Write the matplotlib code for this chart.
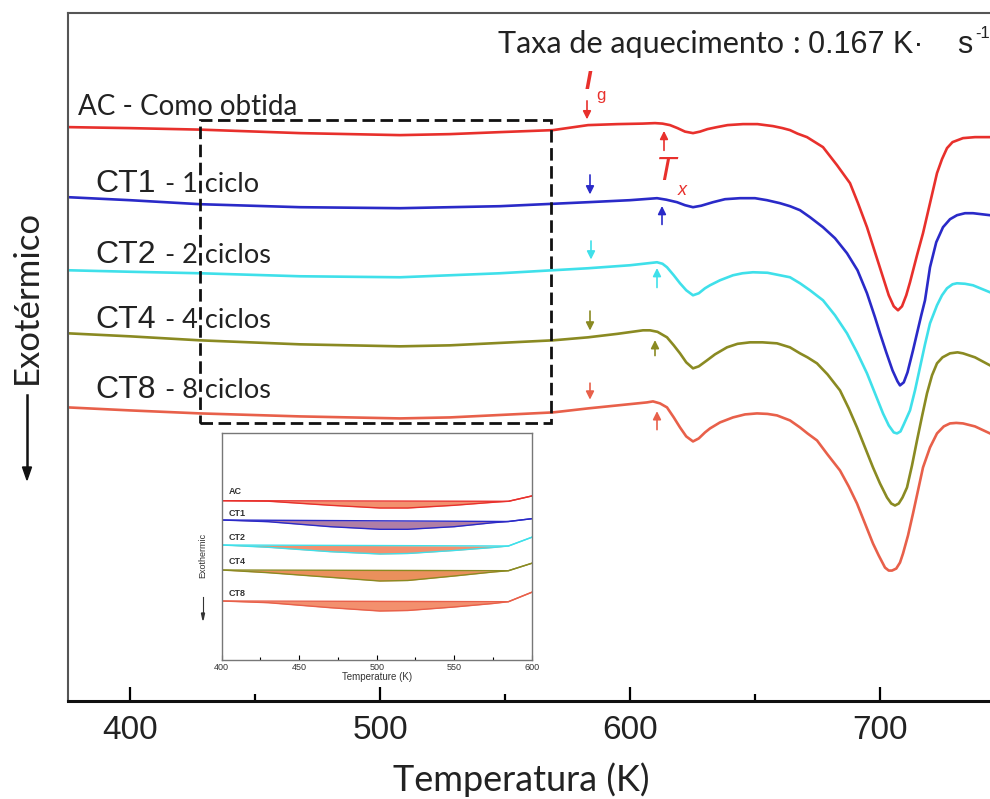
import numpy as np
import matplotlib.pyplot as plt
from matplotlib.patches import Rectangle

plt.rcParams['font.family'] = ['Liberation Sans', 'DejaVu Sans']

# ---- main DSC curves (T in K, heat flow in a.u.) ----
T_ac = [375.2, 400, 428, 468, 508, 528, 548, 569.2, 583.2, 595, 605, 610, 613, 616, 619, 622, 625.2, 628, 631,
        634.8, 639, 645.2, 651, 657.2, 661, 664, 667, 670.8, 677.2, 682.8, 688, 691.2, 694.8, 698, 701.2,
        703.5, 705.5, 707.2, 708.8, 710.5, 712, 714.8, 717.2, 720, 722.8, 724.8, 726.8, 729, 733.2, 738, 744]
s_ac = [573, 572, 570.5, 567, 565, 566, 568, 570, 575, 576, 576.5, 577, 576.5, 575, 572, 568.5, 567, 568.5, 571,
        573, 575, 576, 576, 574, 572, 570, 566.5, 563, 553, 535, 517, 497, 473, 448, 423,
        405, 394, 390, 394, 405, 418, 445, 467, 497, 527, 541, 552, 558, 562, 563, 563]

T_ct1 = [375.2, 400, 428, 468, 508, 528, 548, 583.2, 600, 610.8, 614.5, 618.8, 622, 625.2, 628.5, 633.2, 638,
         644, 650, 654.8, 660, 664, 668, 672, 677.2, 682, 686.8, 691, 694.8, 698, 700, 702.5, 705, 707, 708,
         709.5, 711, 713.2, 714.8, 716.5, 718, 720, 722.5, 725.2, 728, 730.8, 734, 737.2, 744]
s_ct1 = [503, 500, 496, 493, 492, 493, 494, 498, 500, 502, 500.5, 498, 495, 493, 494.5, 498, 501,
         502, 502, 500, 497, 494, 490, 483, 473, 462, 447, 430, 407, 383, 367, 348, 330, 319, 315,
         318, 328, 350, 367, 385, 400, 433, 458, 473, 481, 485, 487, 487, 485]

T_ct2 = [375.2, 400, 428, 468, 508, 528, 548, 583.2, 600, 610.8, 613, 614.8, 617.5, 620, 622.5, 625.2, 627.5,
         630, 632, 636, 641.2, 645, 649.2, 655, 660, 664, 668, 672, 677.2, 682, 686.8, 690.8, 694.8, 698,
         701.2, 703.5, 705.5, 706.8, 708.2, 709.5, 712, 714, 716, 718, 720, 722.8, 724.8, 726.8, 729, 730.8,
         734, 737.2, 744]
s_ct2 = [430, 428.5, 427, 424, 423, 425, 427, 432, 435, 438, 436.5, 433, 425, 417, 410, 405, 407,
         412, 415, 420, 425, 427, 428, 427.5, 425, 423, 417, 410, 400, 385, 367, 348, 327, 307,
         287, 275, 268, 267, 269, 276, 290, 310, 333, 356, 377, 395, 405, 412, 416, 417,
         416.5, 415, 408]

T_ct4 = [375.2, 400, 428, 468, 508, 528, 569.2, 583.2, 595, 605.2, 608, 611, 614.8, 617.5, 620, 622.5, 625.2,
         627.5, 630.8, 634, 638.8, 643, 648, 653, 658.8, 664, 668, 671, 674.8, 679, 684, 687.5, 690.8, 694,
         697.2, 700, 702.8, 704.5, 706, 707.5, 709, 710.8, 712.8, 714.8, 716.8, 718.8, 720.8, 722.8, 725,
         728, 731, 733.2, 738, 744]
s_ct4 = [367, 364, 360, 356, 354, 355, 360, 363, 366.5, 370, 370, 368.5, 363, 355, 347, 338, 332,
         334, 340, 346, 353, 356.5, 358, 358, 357, 353, 347, 343, 337, 326, 310, 292, 273, 253,
         233, 217, 203, 197, 195, 197, 203, 213, 235, 260, 284, 307, 325, 337, 343,
         347, 348, 347, 343, 335]

T_ct8 = [375.2, 400, 428, 468, 508, 528, 569.2, 583.2, 595, 606.8, 609.2, 612, 614.8, 617.5, 620, 622.5, 625.2,
         627.5, 630, 632, 636, 641.2, 646, 650.8, 655, 658.8, 664, 668, 671, 674.8, 679, 684, 687.5, 690.8,
         694, 697.2, 699.5, 702, 703.5, 704.8, 706.5, 708, 709.2, 711.2, 713.2, 715.2, 717.2, 720, 722.8,
         725.5, 728, 730.5, 733.2, 738, 744]
s_ct8 = [293, 290, 287, 284, 282, 283, 288, 292, 295, 298, 299, 297, 293, 283, 273, 264, 259,
         262, 268, 272, 278, 283, 286, 287, 286.5, 285, 280, 273, 267, 260, 246, 230, 214, 197,
         177, 157, 145, 133, 130, 130, 132, 138, 147, 165, 187, 210, 233, 253, 267,
         274, 277, 277.5, 277, 274, 267]

colors = ['#e8302c', '#2a2ac8', '#3fe0ea', '#8a8a22', '#e8604a']
curves = [(T_ac, s_ac), (T_ct1, s_ct1), (T_ct2, s_ct2), (T_ct4, s_ct4), (T_ct8, s_ct8)]

codes = ['CT1', 'CT2', 'CT4', 'CT8']
cycles = ['- 1 ciclo', '- 2 ciclos', '- 4 ciclos', '- 8 ciclos']
label_base = [508, 437, 372, 302]

# onset arrows: T_g (pointing down) and T_x (pointing up)
tg_T = [582.8, 584, 584.4, 584, 584]
tg_top = [602, 528, 462, 392, 320]
tg_bot = [578, 503, 438, 367, 298]
tx_T = [613.6, 612.8, 610.8, 610, 610.8]
tx_bot = [547, 473, 410, 342, 268]
tx_top = [572, 497, 435, 363, 292]

# ---- inset (zoom of 400-600 K) ----
in_T = [400, 430, 470, 502, 520, 550, 575, 585, 600]
in_ac = [159.3, 158.8, 154.7, 152, 152, 154.7, 157.7, 158.7, 164]
in_ct1 = [140, 138.3, 133.3, 130.7, 130.7, 133.3, 137.3, 138.5, 141.3]
in_ct2 = [115, 112.7, 108.3, 106, 106.5, 109.5, 112.5, 114, 122.7]
in_ct4 = [90, 87.3, 82.7, 79, 79.5, 84, 88, 89.3, 96.7]
in_ct8 = [59, 57.3, 52.3, 49, 49.5, 53, 56.5, 58.3, 67.7]
in_curves = [in_ac, in_ct1, in_ct2, in_ct4, in_ct8]
in_labels = ['AC', 'CT1', 'CT2', 'CT4', 'CT8']
in_label_y = [168, 146, 122, 98, 67]
fill_colors = ['#f2845e', '#a8709c', '#f2845e', '#e8844a', '#f2845e']

fig = plt.figure(figsize=(9.9, 7.99), dpi=100)
ax = fig.add_axes([68 / 990, 98.3 / 799, 922 / 990, 687.7 / 799])

for (t, s), c in zip(curves, colors):
    ax.plot(t, s, color=c, lw=1.9, solid_joinstyle='round')

ax.set_xlim(375.2, 744)
ax.set_ylim(0, 687)
ax.set_yticks([])
ax.set_xticks([400, 500, 600, 700])
ax.set_xticks([450, 550, 650], minor=True)
ax.tick_params(axis='x', which='major', direction='in', length=10, width=1.6, pad=10,
               labelsize=24, labelcolor='#222222')
ax.tick_params(axis='x', which='minor', direction='in', length=5, width=1.6)
ax.spines['right'].set_visible(False)
ax.spines['bottom'].set_linewidth(2.2)
ax.spines['bottom'].set_color('#111111')
for sp in ['top', 'left']:
    ax.spines[sp].set_linewidth(1.5)
    ax.spines[sp].set_color('#555555')

# dashed box marking the zoomed region
ax.add_patch(Rectangle((428, 277), 568.4 - 428, 580 - 277, fill=False, ls=(0, (4.5, 2)),
                       lw=2, ec='#111111', zorder=3))

# curve labels
ax.text(379.2, 585, 'AC - Como obtida', fontsize=20, family='Lato', va='baseline', color='#222222')
for code, cyc, yb in zip(codes, cycles, label_base):
    ax.text(386, yb, code, fontsize=23, va='baseline', color='#222222')
    ax.text(414, yb, cyc, fontsize=19.5, family='Lato', va='baseline', color='#222222')

# onset arrows
for i, c in enumerate(colors):
    ax.annotate('', xy=(tg_T[i], tg_bot[i]), xytext=(tg_T[i], tg_top[i]),
                arrowprops=dict(arrowstyle='-|>', color=c, lw=1.2, mutation_scale=12))
    ax.annotate('', xy=(tx_T[i], tx_top[i]), xytext=(tx_T[i], tx_bot[i]),
                arrowprops=dict(arrowstyle='-|>', color=c, lw=1.2, mutation_scale=12))

ax.text(582, 611, 'I', fontsize=18, style='italic', weight='bold', color='#e8302c', va='baseline')
ax.text(586.5, 600, 'g', fontsize=12, color='#e8302c', va='baseline')
ax.text(610.5, 520, 'T', fontsize=24, style='italic', color='#e8302c', va='baseline')
ax.text(619, 505, 'x', fontsize=13, style='italic', color='#e8302c', va='baseline')

# heating rate
ax.text(547.2, 647, 'Taxa de aquecimento', fontsize=22, family='Lato', va='baseline', color='#222222')
ax.text(664.8, 647, ':', fontsize=22, family='Lato', va='baseline', color='#222222')
ax.text(671.2, 647, '0.167 K\u00b7', fontsize=22, va='baseline', color='#222222')
ax.text(730.8, 647, 's', fontsize=22, va='baseline', color='#222222')
ax.text(738, 662, '-1', fontsize=12, va='baseline', color='#222222')

fig.text(521 / 990, 19 / 799, 'Temperatura (K)', fontsize=26, family='Lato', ha='center',
         va='center', color='#222222')
fig.text(27 / 990, 502 / 799, 'Exotérmico', fontsize=25, family='Lato', rotation=90,
         ha='center', va='center', color='#222222')
fig.add_artist(plt.Line2D([27 / 990, 27 / 990], [404 / 799, 330 / 799], color='#111111', lw=1.8))
fig.patches.append(plt.Polygon([[22.5 / 990, 332 / 799], [31.5 / 990, 332 / 799], [27 / 990, 319 / 799]],
                               closed=True, color='#111111', transform=fig.transFigure, figure=fig))

# ---- inset ----
axi = fig.add_axes([221.7 / 990, 139 / 799, 310 / 990, 227 / 799])
for vals, c, fc in zip(in_curves, colors, fill_colors):
    chord = np.interp(in_T, [in_T[0], in_T[-2]], [vals[0], vals[-2]])
    chord[-1] = vals[-1]
    axi.fill_between(in_T, vals, chord, color=fc, alpha=0.9, lw=0)
    axi.plot(in_T, vals, color=c, lw=1)
    axi.plot(in_T, chord, color=c, lw=1)
for lab, yl in zip(in_labels, in_label_y):
    axi.text(404.3, yl, lab, fontsize=6.5, weight='bold', color='#333333', va='center')
axi.set_xlim(400, 600)
axi.set_ylim(0, 227)
axi.set_yticks([])
axi.set_xticks([400, 450, 500, 550, 600])
axi.set_xticks([425, 475, 525, 575], minor=True)
axi.tick_params(axis='x', which='major', direction='in', length=3.5, width=0.8, pad=2,
                labelsize=6.5, labelcolor='#333333')
axi.tick_params(axis='x', which='minor', direction='in', length=2, width=0.8)
for sp in axi.spines.values():
    sp.set_color('#777777')
    sp.set_linewidth(1)
axi.set_xlabel('Temperature (K)', fontsize=7, labelpad=0, color='#333333')
fig.text(203 / 990, 244 / 799, 'Exothermic', fontsize=6.5, rotation=90, ha='center', va='center',
         color='#333333')
fig.add_artist(plt.Line2D([203 / 990, 203 / 990], [202 / 799, 185 / 799], color='#333333', lw=0.8))
fig.patches.append(plt.Polygon([[201.5 / 990, 186 / 799], [204.5 / 990, 186 / 799], [203 / 990, 179 / 799]],
                               closed=True, color='#333333', transform=fig.transFigure, figure=fig))

fig.savefig('out.png', dpi=100)
